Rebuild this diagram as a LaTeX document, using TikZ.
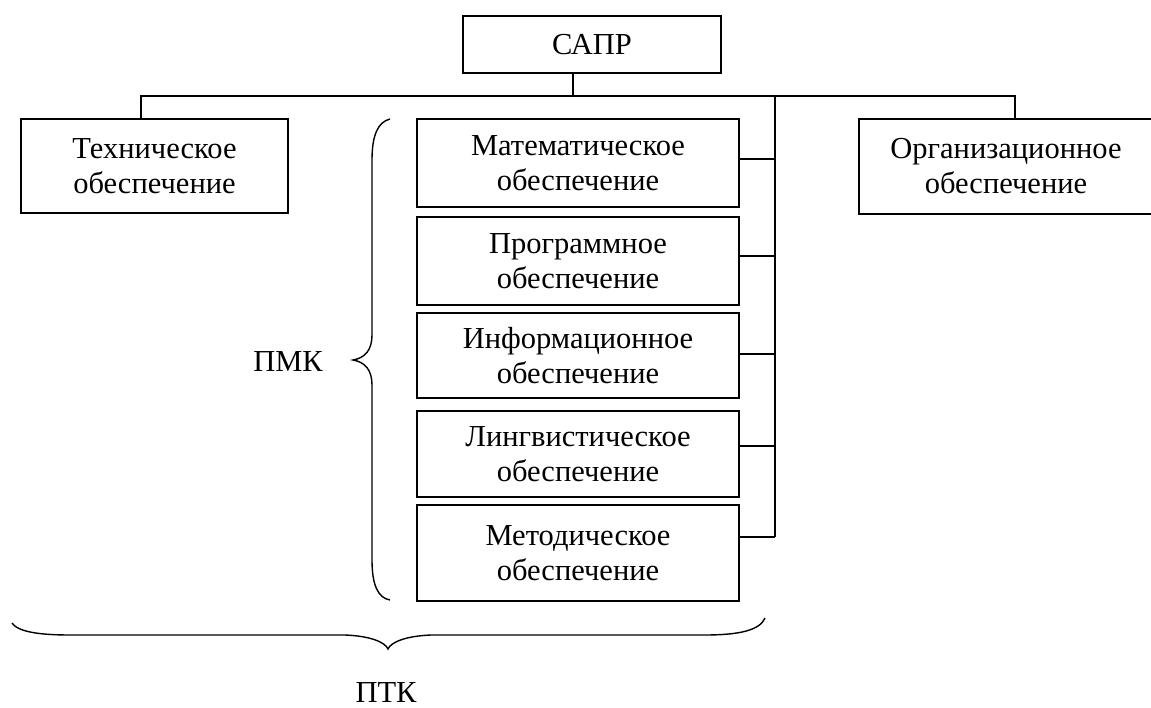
\documentclass[tikz,border=0pt]{standalone}
\usepackage{fontspec}
\setmainfont{Liberation Serif}
\begin{document}
\begin{tikzpicture}[x=1pt,y=1pt,
  box/.style={draw,line width=1.9pt,inner sep=0pt,align=center,
    font=\fontsize{30.5}{35}\selectfont},
  lbl/.style={inner sep=0pt,font=\fontsize{30.5}{35}\selectfont},
  wire/.style={line width=1.9pt},
  brc/.style={line width=1.4pt}]
\useasboundingbox (0,0) rectangle (1151,-708);
\node[box,minimum width=258pt,minimum height=57pt] (sapr) at (592,-44.5) {САПР};
\node[box,minimum width=267pt,minimum height=94pt] (tech) at (154.5,-166) {Техническое\\обеспечение};
\node[box,minimum width=294pt,minimum height=95pt] (org) at (1006,-166.5) {Организационное\\обеспечение};
\node[box,minimum width=322pt,minimum height=88pt] (m1) at (578,-163) {Математическое\\обеспечение};
\node[box,minimum width=322pt,minimum height=88pt] (m2) at (578,-261) {Программное\\обеспечение};
\node[box,minimum width=322pt,minimum height=85pt] (m3) at (578,-355.5) {Информационное\\обеспечение};
\node[box,minimum width=322pt,minimum height=86pt] (m4) at (578,-454) {Лингвистическое\\обеспечение};
\node[box,minimum width=322pt,minimum height=96pt] (m5) at (578,-553) {Методическое\\обеспечение};
\node[lbl] (pmk) at (288,-362) {ПМК};
\node[lbl] (ptk) at (386,-693) {ПТК};
% bus
\coordinate (s0) at (573,-96);
\coordinate (bl) at (141,-96);
\coordinate (br) at (1015,-96);
\coordinate (vt) at (775,-96);
\coordinate (t1) at (775,-159);
\coordinate (t2) at (775,-256);
\coordinate (t3) at (775,-354);
\coordinate (t4) at (775,-446);
\coordinate (t5) at (775,-537);
\draw[wire] (sapr.south -| s0) -- (s0);
\draw[wire] (tech.north -| bl) -- (bl) -- (br) -- (org.north -| br);
\draw[wire] (vt) -- (t5);
\draw[wire] (m1.east |- t1) -- (t1);
\draw[wire] (m2.east |- t2) -- (t2);
\draw[wire] (m3.east |- t3) -- (t3);
\draw[wire] (m4.east |- t4) -- (t4);
\draw[wire] (m5.east |- t5) -- (t5);
% braces
\draw[brc] (390,-119) .. controls (378,-122) and (372,-135) .. (372,-160) -- (372,-335)
  .. controls (372,-350) and (365,-358) .. (353,-360)
  .. controls (365,-362) and (372,-370) .. (372,-385) -- (372,-560)
  .. controls (372,-585) and (378,-598) .. (390,-600);
\draw[brc] (12,-623) .. controls (18,-632) and (40,-635) .. (70,-635) -- (345,-635)
  .. controls (370,-636) and (385,-642) .. (388,-649)
  .. controls (391,-642) and (406,-636) .. (431,-635) -- (705,-635)
  .. controls (740,-635) and (760,-630) .. (765,-618);
\end{tikzpicture}
\end{document}
